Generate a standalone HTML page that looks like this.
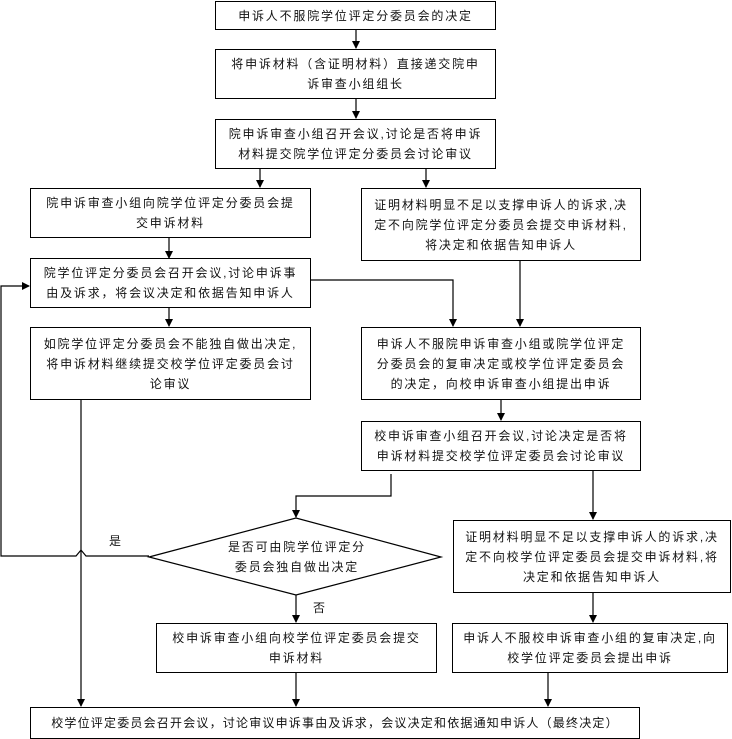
<!DOCTYPE html>
<html><head><meta charset="utf-8"><style>
body{margin:0;width:732px;height:739px;background:#fff;position:relative;overflow:hidden;font-family:"Liberation Sans","Noto Sans CJK SC",sans-serif;}
.b{position:absolute;box-sizing:border-box;border:1.3px solid #000;display:flex;align-items:center;justify-content:center;text-align:center;font-size:12px;letter-spacing:1.8px;line-height:20px;color:#111;padding:0 11px;}
.t{position:absolute;font-size:12px;color:#111;}
svg{position:absolute;left:0;top:0}
</style></head><body>
<svg width="732" height="739" viewBox="0 0 732 739">
<defs><marker id="a" markerWidth="8" markerHeight="8" refX="7" refY="4" orient="auto" markerUnits="userSpaceOnUse"><path d="M0,0 L8,4 L0,8 z" fill="#000"/></marker></defs>
<g stroke="#000" stroke-width="1.2" fill="none">
<line x1="356" y1="29" x2="356" y2="48" marker-end="url(#a)"/>
<line x1="356" y1="98" x2="356" y2="118" marker-end="url(#a)"/>
<line x1="260" y1="168" x2="260" y2="187" marker-end="url(#a)"/>
<line x1="426" y1="168" x2="426" y2="187" marker-end="url(#a)"/>
<line x1="169" y1="238" x2="169" y2="258" marker-end="url(#a)"/>
<polyline points="311,280 453,280 453,326" marker-end="url(#a)"/>
<line x1="520" y1="260" x2="520" y2="326" marker-end="url(#a)"/>
<line x1="169" y1="307" x2="169" y2="326" marker-end="url(#a)"/>
<line x1="501" y1="399" x2="501" y2="420" marker-end="url(#a)"/>
<polyline points="391,474 391,496 296,496 296,517" marker-end="url(#a)"/>
<line x1="593" y1="470" x2="593" y2="519" marker-end="url(#a)"/>
<polygon points="149,557 296,518 441,557 296,595"/>
<line x1="296" y1="595" x2="296" y2="622" marker-end="url(#a)"/>
<line x1="593" y1="592" x2="593" y2="622" marker-end="url(#a)"/>
<polyline points="149,556 86,556 81,550 76,556 1,556 1,286 29,286" marker-end="url(#a)"/>
<line x1="81" y1="399" x2="81" y2="706" marker-end="url(#a)"/>
<line x1="296" y1="672" x2="296" y2="706" marker-end="url(#a)"/>
<line x1="548" y1="672" x2="548" y2="706" marker-end="url(#a)"/>
</g>
</svg>
<div class="b" style="left:215px;top:1px;width:281px;height:29px">申诉人不服院学位评定分委员会的决定</div>
<div class="b" style="left:215px;top:49px;width:281px;height:50px">将申诉材料（含证明材料）直接递交院申诉审查小组组长</div>
<div class="b" style="left:215px;top:119px;width:281px;height:50px">院申诉审查小组召开会议,讨论是否将申诉材料提交院学位评定分委员会讨论审议</div>
<div class="b" style="left:30px;top:188px;width:281px;height:50px">院申诉审查小组向院学位评定分委员会提交申诉材料</div>
<div class="b" style="left:361px;top:188px;width:280px;height:73px">证明材料明显不足以支撑申诉人的诉求,决定不向院学位评定分委员会提交申诉材料,将决定和依据告知申诉人</div>
<div class="b" style="left:30px;top:258px;width:281px;height:50px">院学位评定分委员会召开会议,讨论申诉事由及诉求，将会议决定和依据告知申诉人</div>
<div class="b" style="left:30px;top:327px;width:281px;height:73px">如院学位评定分委员会不能独自做出决定,将申诉材料继续提交校学位评定委员会讨论审议</div>
<div class="b" style="left:361px;top:327px;width:280px;height:73px">申诉人不服院申诉审查小组或院学位评定分委员会的复审决定或校学位评定委员会的决定，向校申诉审查小组提出申诉</div>
<div class="b" style="left:361px;top:421px;width:280px;height:50px">校申诉审查小组召开会议,讨论决定是否将申诉材料提交校学位评定委员会讨论审议</div>
<div class="t" style="left:224px;top:537px;width:146px;text-align:center;line-height:20px;letter-spacing:1.8px">是否可由院学位评定分委员会独自做出决定</div>
<div class="b" style="left:453px;top:520px;width:278px;height:73px">证明材料明显不足以支撑申诉人的诉求,决定不向校学位评定委员会提交申诉材料,将决定和依据告知申诉人</div>
<div class="b" style="left:156px;top:623px;width:281px;height:50px">校申诉审查小组向校学位评定委员会提交申诉材料</div>
<div class="b" style="left:452px;top:623px;width:276px;height:50px;padding:0 4px">申诉人不服校申诉审查小组的复审决定,向校学位评定委员会提出申诉</div>
<div class="b" style="left:30px;top:707px;width:610px;height:32px;padding:0 2px;letter-spacing:1.2px;white-space:nowrap">校学位评定委员会召开会议，讨论审议申诉事由及诉求，会议决定和依据通知申诉人（最终决定）</div>
<div class="t" style="left:109px;top:532px">是</div>
<div class="t" style="left:313px;top:599px">否</div>
</body></html>
